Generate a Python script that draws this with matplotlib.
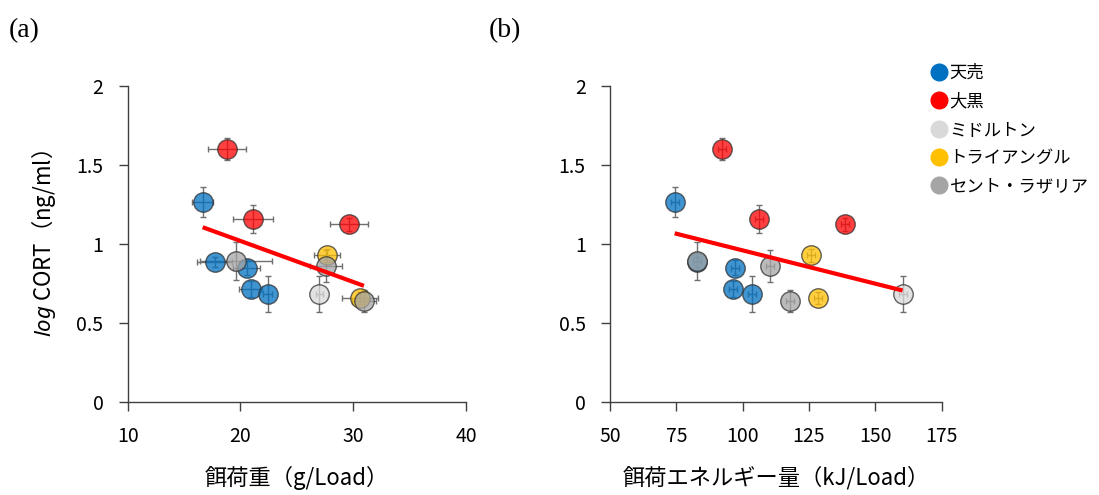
import numpy as np
import matplotlib
matplotlib.use("Agg")
import matplotlib.pyplot as plt
from matplotlib.lines import Line2D

plt.rcParams['font.family'] = ['Noto Sans CJK JP', 'DejaVu Sans']
plt.rcParams['mathtext.fontset'] = 'custom'
plt.rcParams['mathtext.it'] = 'Noto Sans:italic'
plt.rcParams['mathtext.rm'] = 'Noto Sans'

# [-- data
groups = ["天売", "大黒", "ミドルトン", "トライアングル", "セント・ラザリア"]
group_colors = ["#0070C0", "#FF0000", "#D9D9D9", "#FFC000", "#A5A5A5"]

point_group = [0, 0, 0, 0, 0, 1, 1, 1, 2, 3, 3, 4, 4, 4]
load_mass = [16.65, 17.7, 20.55, 20.9, 22.4, 18.8, 21.1, 29.65, 27.0, 27.65, 30.6, 19.6, 27.6, 30.95]
load_mass_err = [0.95, 1.55, 1.2, 1.0, 0.4, 1.7, 1.8, 1.7, 0.3, 1.15, 1.6, 3.2, 1.4, 1.1]
load_energy = [74.4, 82.9, 97.2, 96.5, 103.4, 92.3, 106.0, 138.5, 160.3, 125.8, 128.5, 82.9, 110.3, 117.9]
load_energy_err = [1.5, 1.5, 1.5, 1.5, 1.5, 1.5, 1.5, 1.5, 1.5, 1.5, 1.5, 1.5, 1.5, 1.5]
log_cort = [1.264, 0.885, 0.85, 0.715, 0.68, 1.60, 1.158, 1.124, 0.682, 0.927, 0.656, 0.889, 0.858, 0.64]
log_cort_err = [0.095, 0.03, 0.05, 0.05, 0.114, 0.072, 0.089, 0.04, 0.114, 0.04, 0.04, 0.12, 0.10, 0.07]
# --]

fig = plt.figure(figsize=(10.99, 4.95), dpi=100)
ax_a = fig.add_axes([0.1162, 0.1885, 0.3078, 0.6378])
ax_b = fig.add_axes([0.5550, 0.1885, 0.3018, 0.6378])

spine_col = "#404040"

def draw_panel(ax, xs, xerr, xlim, xticks, xlabel):
    xs = np.array(xs)
    ys = np.array(log_cort)
    grp = np.array(point_group)
    for g in range(len(groups)):
        m = grp == g
        ax.errorbar(xs[m], ys[m], xerr=np.array(xerr)[m], yerr=np.array(log_cort_err)[m],
                    fmt='none', ecolor="#707070", elinewidth=1.0, capsize=2.5, capthick=1.0, zorder=2)
        ax.plot(xs[m], ys[m], 'o', ms=14, mfc=group_colors[g], mec="#303030", mew=1.0,
                alpha=0.75, zorder=3)
    k, b = np.polyfit(xs, ys, 1)
    fx = np.array([xs.min(), xs.max()])
    ax.plot(fx, k * fx + b, color="#FF0000", lw=3, zorder=4, solid_capstyle='butt')

    ax.set_xlim(xlim)
    ax.set_ylim(0, 2)
    ax.set_xticks(xticks)
    ax.set_yticks([0, 0.5, 1, 1.5, 2])
    ax.set_yticklabels(["0", "0.5", "1", "1.5", "2"])
    for s in ["top", "right"]:
        ax.spines[s].set_visible(False)
    for s in ["left", "bottom"]:
        ax.spines[s].set_color(spine_col)
        ax.spines[s].set_linewidth(1.0)
    ax.tick_params(direction='out', length=6.5, width=1.0, color=spine_col,
                   labelsize=14, labelcolor="#000000")
    ax.tick_params(axis='x', pad=11)
    ax.tick_params(axis='y', pad=11)
    ax.set_xlabel(xlabel, fontsize=16, labelpad=14)

draw_panel(ax_a, load_mass, load_mass_err, (10, 40), [10, 20, 30, 40], "餌荷重（g/Load）")
draw_panel(ax_b, load_energy, load_energy_err, (50, 175), [50, 75, 100, 125, 150, 175],
           "餌荷エネルギー量（kJ/Load）")
ax_a.set_ylabel(r"$\it{log}$ CORT（ng/ml）", fontsize=16, labelpad=13)

fig.text(0.008, 0.938, "(a)", fontsize=20, family="Liberation Serif", va='center')
fig.text(0.445, 0.938, "(b)", fontsize=20, family="Liberation Serif", va='center')

handles = [Line2D([], [], ls='none', marker='o', ms=12, mfc=c, mec=c) for c in group_colors]
fig.legend(handles, groups, loc='upper left', bbox_to_anchor=(0.842, 0.885), frameon=False,
           fontsize=12.5, handlelength=0.8, handletextpad=0.2, labelspacing=0.6, borderaxespad=0)

fig.savefig("out.png", dpi=100)
